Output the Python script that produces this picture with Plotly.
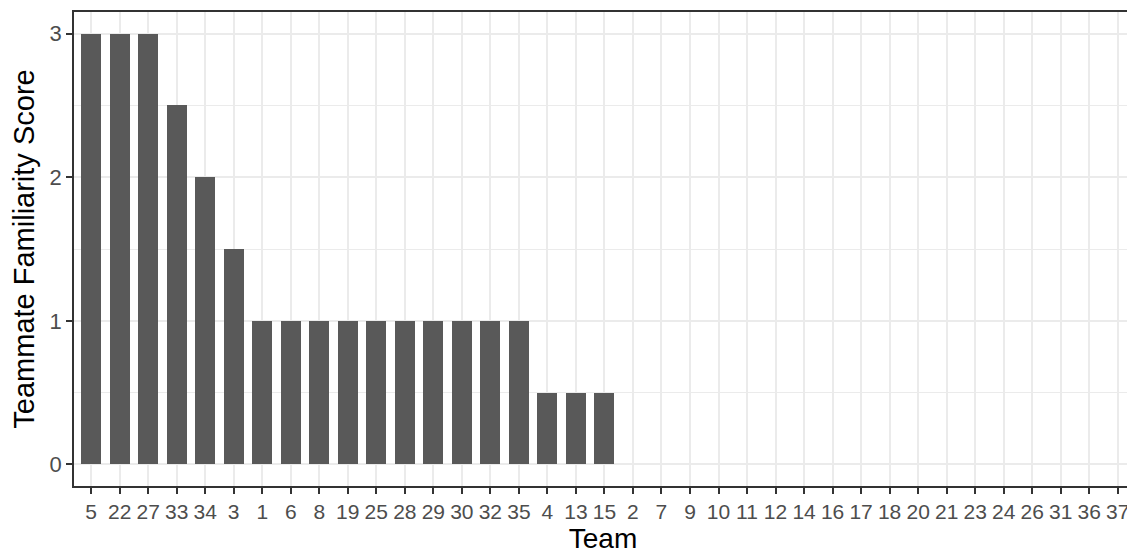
import plotly.graph_objects as go

teams = ["5", "22", "27", "33", "34", "3", "1", "6", "8", "19", "25", "28", "29", "30",
         "32", "35", "4", "13", "15", "2", "7", "9", "10", "11", "12", "14", "16", "17",
         "18", "20", "21", "23", "24", "26", "31", "36", "37"]
scores = [3, 3, 3, 2.5, 2, 1.5, 1, 1, 1, 1, 1, 1, 1, 1, 1, 1, 0.5, 0.5, 0.5,
          0, 0, 0, 0, 0, 0, 0, 0, 0, 0, 0, 0, 0, 0, 0, 0, 0, 0]

fig = go.Figure(go.Bar(x=teams, y=scores, width=0.7, marker=dict(color="#595959", line=dict(width=0))))

# page has an 8px body margin, so the figure is sized to fill the rest of the window
fig.update_layout(
    width=1127, height=546,
    margin=dict(l=66, r=3, t=4, b=68, autoexpand=False),
    paper_bgcolor="white", plot_bgcolor="white",
    font=dict(family="Liberation Sans, Arial, sans-serif", color="#000000"),
    showlegend=False,
    bargap=0,
)
fig.update_xaxes(
    type="category", categoryorder="array", categoryarray=teams,
    range=[-0.6, len(teams) - 0.5], automargin=False,
    showgrid=True, gridcolor="#EBEBEB", gridwidth=1.5,
    ticks="outside", ticklen=6, tickcolor="#333333", tickwidth=1.5,
    tickfont=dict(size=21, color="#4D4D4D"),
    showline=True, linecolor="#333333", linewidth=1.5, mirror=True,
    zeroline=False,
    title=dict(text="Team", font=dict(size=28, color="#000000"), standoff=8),
)
fig.update_yaxes(
    range=[-0.15, 3.15], tick0=0, dtick=1, automargin=False,
    showgrid=True, gridcolor="#EBEBEB", gridwidth=1.5,
    minor=dict(dtick=0.5, tick0=0, showgrid=True, gridcolor="#EBEBEB", gridwidth=0.9),
    ticks="outside", ticklen=6, tickcolor="#333333", tickwidth=1.5,
    tickfont=dict(size=22, color="#4D4D4D"),
    showline=True, linecolor="#333333", linewidth=1.5, mirror=True,
    zeroline=False,
    title=dict(text="Teammate Familiarity Score", font=dict(size=29, color="#000000"), standoff=10),
)

fig.write_html("out.html")
